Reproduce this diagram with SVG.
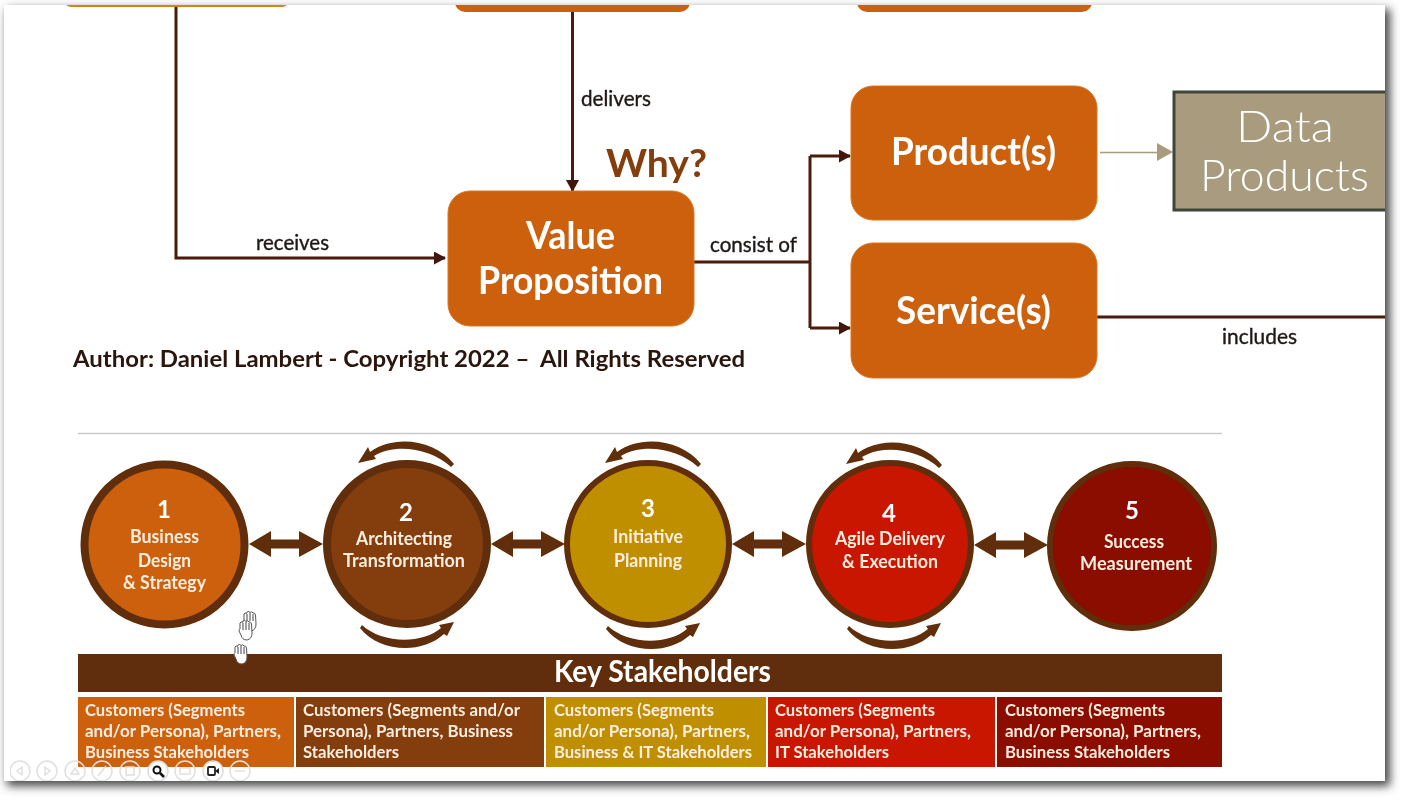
<svg xmlns="http://www.w3.org/2000/svg" width="1404" height="800" viewBox="0 0 1404 800">
<style>
text{font-family:Lato,"Liberation Sans",sans-serif;font-weight:700}
.box{fill:#CC610F;stroke:#D9761F;stroke-width:1}
.big{fill:#fff;font-size:38px}
.lbl{fill:#1e1a18;font-size:22px;font-weight:400;stroke:#1e1a18;stroke-width:.4}
.circ{stroke:#602E07;stroke-width:8}
.thin{stroke-width:6}
.num{fill:#fff;font-size:24px}
.ct{fill:#fdeee0;font-size:19px}
.cell{fill:#fdeee0;font-size:17.5px}
.link{fill:none;stroke:#4a1d0c;stroke-width:3}
.dbl,.spin{fill:#602E07}
.tb{fill:none;stroke:#e0e0e0;stroke-width:1.500}
.tbd{fill:#fff;stroke:#dcdcdc;stroke-width:1.500}
.hand{fill:#fff;stroke:#555;stroke-width:1}
.fing{fill:none;stroke:#444;stroke-width:1}
</style>
<defs>
<filter id="sh" x="-5%" y="-5%" width="110%" height="110%"><feGaussianBlur stdDeviation="5"/></filter>
<filter id="soft" x="0" y="0" width="100%" height="100%"><feGaussianBlur stdDeviation="0.5"/></filter>
<clipPath id="slide"><rect x="4" y="5" width="1381" height="776"/></clipPath>
<marker id="ah" markerUnits="userSpaceOnUse" markerWidth="12" markerHeight="14" refX="11" refY="6.5" orient="auto"><path d="M0,0 L12,6.5 L0,13 Z" fill="#3f1708"/></marker>
<path id="dbl" class="dbl" d="M0,0 L22,-13 L22,-4.500 L50,-4.500 L50,-13 L74,0 L50,13 L50,4.500 L22,4.500 L22,13 Z"/>
<path id="spinTop" class="spin" d="M47,-80 C28,-104 -12,-110 -37,-92 L-39,-97 L-49,-81 L-31,-85 L-33,-88 C-12,-101 24,-96 44,-77 Z"/>
<path id="spinBot" class="spin" d="M-47,84 C-28,108 14,111 37,90 L40,92 L47,78 L32,81 L34,84 C14,101 -26,99 -45,81 Z"/>
<g id="hand"><path class="hand" d="M-6,-3 L-6,-9 Q-5,-11 -3.500,-9.500 L-3,-11 Q-1,-12.500 0,-10.500 Q2,-12 3,-10 Q5,-10.500 5.500,-8 L6,1 Q6,7 1,8 Q-4,8 -5,3 L-7,-1 Q-7,-3 -6,-3 Z"/><path class="fing" d="M-3,-9 V-2 M0,-10 V-2 M3,-9 V-2"/></g>
</defs>
<rect width="1404" height="800" fill="#fff"/>
<rect x="7" y="9" width="1383" height="777" fill="#444" filter="url(#sh)"/>
<rect x="4" y="5" width="1381" height="776" fill="#fff"/>

<g filter="url(#soft)">
<g clip-path="url(#slide)">
<g id="top-left-box"><rect x="65" y="-20" width="223" height="27" rx="6" fill="#CC8A10"/></g>
<g id="top-mid-box"><rect x="455" y="-20" width="235" height="32" rx="10" fill="#CC610F"/></g>
<g id="top-right-box"><rect x="857" y="-20" width="235" height="32" rx="10" fill="#CC610F"/></g>

<g id="connectors">
<path class="link" d="M176,7 V258 H445" marker-end="url(#ah)"/>
<path class="link" d="M572.500,12 V191" marker-end="url(#ah)"/>
<path class="link" d="M694,262 H810"/>
<path class="link" d="M810,156 V328"/>
<path class="link" d="M810,156 H850" marker-end="url(#ah)"/>
<path class="link" d="M810,328 H850" marker-end="url(#ah)"/>
<path class="link" d="M1097,317 H1385"/>
<path d="M1100,152.500 H1158" fill="none" stroke="#A99C7E" stroke-width="1.500"/>
<path d="M1157,143 L1173,152 L1157,161 Z" fill="#A99C7E"/>
<use href="#dbl" x="249" y="544"/>
<use href="#dbl" x="491" y="544"/>
<use href="#dbl" x="732" y="544"/>
<use href="#dbl" x="974" y="545"/>
<use href="#spinTop" x="407" y="544"/>
<use href="#spinBot" x="407" y="544"/>
<use href="#spinTop" x="654" y="544"/>
<use href="#spinBot" x="653" y="545"/>
<use href="#spinTop" x="895" y="545"/>
<use href="#spinBot" x="894" y="545"/>
</g>

<g id="value-proposition"><rect class="box" x="448" y="191" width="246" height="135" rx="22"/>
<text class="big" x="526" y="249" textLength="89" lengthAdjust="spacingAndGlyphs">Value</text>
<text class="big" x="478" y="294" textLength="185" lengthAdjust="spacingAndGlyphs">Proposition</text></g>
<g id="products"><rect class="box" x="851" y="86" width="246" height="134" rx="22"/>
<text class="big" x="891" y="165" textLength="165" lengthAdjust="spacingAndGlyphs">Product(s)</text></g>
<g id="services"><rect class="box" x="851" y="243" width="246" height="135" rx="22"/>
<text class="big" x="896" y="324" textLength="155" lengthAdjust="spacingAndGlyphs">Service(s)</text></g>
<g id="data-products"><rect x="1174" y="92" width="220" height="118" fill="#A99C7E" stroke="#3f4438" stroke-width="3"/>
<text x="1236" y="142" font-size="43" fill="#fff" style="font-weight:300" textLength="98" lengthAdjust="spacingAndGlyphs">Data</text>
<text x="1200" y="191" font-size="43" fill="#fff" style="font-weight:300" textLength="169" lengthAdjust="spacingAndGlyphs">Products</text></g>

<g id="labels">
<text class="lbl" x="581" y="106" textLength="70" lengthAdjust="spacingAndGlyphs">delivers</text>
<text class="lbl" x="256" y="250" textLength="73" lengthAdjust="spacingAndGlyphs">receives</text>
<text class="lbl" x="710" y="252" textLength="87" lengthAdjust="spacingAndGlyphs">consist of</text>
<text class="lbl" x="1222" y="344" textLength="75" lengthAdjust="spacingAndGlyphs">includes</text>
<text x="606" y="177" font-size="38" fill="#843C0C" textLength="101" lengthAdjust="spacingAndGlyphs">Why?</text>
<text x="73" y="367" font-size="23" fill="#2b130a" xml:space="preserve" textLength="672" lengthAdjust="spacingAndGlyphs">Author: Daniel Lambert - Copyright 2022 –  All Rights Reserved</text>
</g>

<path d="M78,433.500 H1222" stroke="#c9c9c9" stroke-width="1.500"/>

<g id="step-1"><circle class="circ" cx="164.500" cy="544.500" r="80" fill="#CC610F"/>
<text class="num" x="164" y="518" text-anchor="middle">1</text>
<text class="ct" x="130" y="543" textLength="69" lengthAdjust="spacingAndGlyphs">Business</text>
<text class="ct" x="138" y="567" textLength="53" lengthAdjust="spacingAndGlyphs">Design</text>
<text class="ct" x="123" y="589" textLength="83" lengthAdjust="spacingAndGlyphs">&amp; Strategy</text></g>
<g id="step-2"><circle class="circ" cx="407" cy="544" r="80" fill="#843C0C"/>
<text class="num" x="406" y="521" text-anchor="middle">2</text>
<text class="ct" x="356" y="545" textLength="96" lengthAdjust="spacingAndGlyphs">Architecting</text>
<text class="ct" x="343" y="567" textLength="122" lengthAdjust="spacingAndGlyphs">Transformation</text></g>
<g id="step-3"><circle class="circ thin" cx="648" cy="544" r="81" fill="#BF8F00"/>
<text class="num" x="648" y="517" text-anchor="middle">3</text>
<text class="ct" x="613" y="543" textLength="70" lengthAdjust="spacingAndGlyphs">Initiative</text>
<text class="ct" x="614" y="567" textLength="68" lengthAdjust="spacingAndGlyphs">Planning</text></g>
<g id="step-4"><circle class="circ thin" cx="890" cy="544" r="81" fill="#C81400"/>
<text class="num" x="889" y="522" text-anchor="middle">4</text>
<text class="ct" x="835" y="545" textLength="110" lengthAdjust="spacingAndGlyphs">Agile Delivery</text>
<text class="ct" x="842" y="568" textLength="96" lengthAdjust="spacingAndGlyphs">&amp; Execution</text></g>
<g id="step-5"><circle class="circ thin" cx="1132" cy="546" r="82" fill="#8B0A00"/>
<text class="num" x="1132" y="519" text-anchor="middle">5</text>
<text class="ct" x="1104" y="548" textLength="60" lengthAdjust="spacingAndGlyphs">Success</text>
<text class="ct" x="1080" y="570" textLength="112" lengthAdjust="spacingAndGlyphs">Measurement</text></g>

<g id="key-stakeholders"><rect x="78" y="654" width="1144" height="38" fill="#602E07"/>
<text x="554" y="682" font-size="30" fill="#fff" textLength="217" lengthAdjust="spacingAndGlyphs">Key Stakeholders</text></g>

<g id="cell-1"><rect x="78" y="697" width="216" height="70" fill="#CC610F"/>
<text class="cell" x="85" y="716" textLength="160" lengthAdjust="spacingAndGlyphs">Customers (Segments</text>
<text class="cell" x="85" y="737" textLength="196" lengthAdjust="spacingAndGlyphs">and/or Persona), Partners,</text>
<text class="cell" x="85" y="758" textLength="164" lengthAdjust="spacingAndGlyphs">Business Stakeholders</text></g>
<g id="cell-2"><rect x="296" y="697" width="248" height="70" fill="#843C0C"/>
<text class="cell" x="303" y="716" textLength="217" lengthAdjust="spacingAndGlyphs">Customers (Segments and/or</text>
<text class="cell" x="303" y="737" textLength="210" lengthAdjust="spacingAndGlyphs">Persona), Partners, Business</text>
<text class="cell" x="303" y="758" textLength="96" lengthAdjust="spacingAndGlyphs">Stakeholders</text></g>
<g id="cell-3"><rect x="546" y="697" width="220" height="70" fill="#BF8F00"/>
<text class="cell" x="554" y="716" textLength="160" lengthAdjust="spacingAndGlyphs">Customers (Segments</text>
<text class="cell" x="554" y="737" textLength="196" lengthAdjust="spacingAndGlyphs">and/or Persona), Partners,</text>
<text class="cell" x="554" y="758" textLength="198" lengthAdjust="spacingAndGlyphs">Business &amp; IT Stakeholders</text></g>
<g id="cell-4"><rect x="768" y="697" width="227" height="70" fill="#C81400"/>
<text class="cell" x="775" y="716" textLength="160" lengthAdjust="spacingAndGlyphs">Customers (Segments</text>
<text class="cell" x="775" y="737" textLength="196" lengthAdjust="spacingAndGlyphs">and/or Persona), Partners,</text>
<text class="cell" x="775" y="758" textLength="114" lengthAdjust="spacingAndGlyphs">IT Stakeholders</text></g>
<g id="cell-5"><rect x="997" y="697" width="225" height="70" fill="#8B0A00"/>
<text class="cell" x="1005" y="716" textLength="160" lengthAdjust="spacingAndGlyphs">Customers (Segments</text>
<text class="cell" x="1005" y="737" textLength="196" lengthAdjust="spacingAndGlyphs">and/or Persona), Partners,</text>
<text class="cell" x="1005" y="758" textLength="165" lengthAdjust="spacingAndGlyphs">Business Stakeholders</text></g>

<g id="cursors">
<use href="#hand" x="250" y="623"/>
<use href="#hand" x="246" y="632"/>
<use href="#hand" x="241" y="656"/>
</g>

<g id="toolbar">
<circle class="tb" cx="20" cy="771" r="10"/><path class="tb" d="M22,767 L17,771 L22,775 Z"/>
<circle class="tb" cx="47" cy="771" r="10"/><path class="tb" d="M45,767 L50,771 L45,775 Z"/>
<circle class="tb" cx="75" cy="771" r="10"/><path class="tb" d="M71,774 L75,768 L79,774 Z"/>
<circle class="tb" cx="102" cy="771" r="10"/><path class="tb" d="M98,776 L106,766"/>
<circle class="tb" cx="130" cy="771" r="10"/><rect class="tb" x="126" y="767" width="8" height="8"/>
<circle class="tbd" cx="158" cy="771" r="10"/><circle cx="157" cy="770" r="3.500" fill="none" stroke="#111" stroke-width="2"/><path d="M160,773 L164,777" stroke="#111" stroke-width="2.500"/>
<circle class="tb" cx="185" cy="771" r="10"/><rect class="tb" x="180" y="768" width="10" height="6"/>
<circle class="tbd" cx="213" cy="771" r="10"/><rect x="208" y="767" width="7" height="8" rx="1" fill="none" stroke="#222" stroke-width="1.800"/><path d="M215,771 L219,768 V774 Z" fill="#222"/>
<circle class="tb" cx="240" cy="771" r="10"/><path class="tb" d="M235,771 H245"/>
</g>
</g>
</g>
</svg>
